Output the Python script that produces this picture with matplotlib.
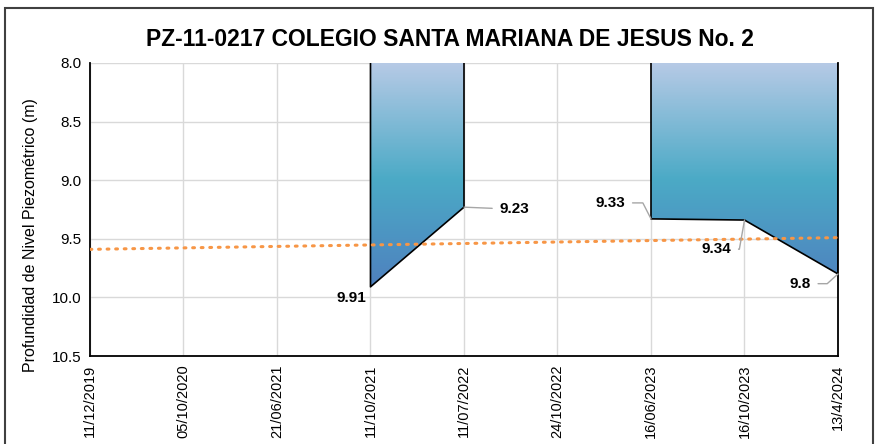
import numpy as np
import matplotlib
matplotlib.use("Agg")
import matplotlib.pyplot as plt
from matplotlib import font_manager
from matplotlib.colors import LinearSegmentedColormap
from matplotlib.patches import Rectangle

names = {f.name for f in font_manager.fontManager.ttflist}
FONT = 'Liberation Sans Narrow' if 'Liberation Sans Narrow' in names else 'Liberation Sans'
plt.rcParams['font.family'] = [FONT, 'DejaVu Sans']

# ---- data ----
dates = ["11/12/2019", "05/10/2020", "21/06/2021", "11/10/2021", "11/07/2022",
         "24/10/2022", "16/06/2023", "16/10/2023", "13/4/2024"]
depth = [np.nan, np.nan, np.nan, 9.91, 9.23, np.nan, 9.33, 9.34, 9.8]
trend_start, trend_end = 9.59, 9.49
title = "PZ-11-0217 COLEGIO SANTA MARIANA DE JESUS No. 2"
ylabel = "Profundidad de Nivel Piezométrico (m)"
# label offsets (points) and leader-line style
label_offsets = {3: (-14, -8), 4: (36, -1.5), 6: (-29, 11.5), 7: (-20, -21), 8: (-27, -7)}
leader_conn = {3: None, 4: 'arc3,rad=0', 6: 'angle,angleA=0,angleB=117,rad=0',
               7: 'angle,angleA=0,angleB=80,rad=0', 8: 'angle,angleA=0,angleB=42,rad=0'}

fig = plt.figure(figsize=(8.78, 4.44), dpi=100)
ax = fig.add_axes([90/878, 1-356/444, (838-90)/878, (356-63)/444])

x = np.arange(len(dates))
y = np.array(depth, dtype=float)
ymin, ymax = 8.0, 10.5

cmap = LinearSegmentedColormap.from_list("g", [(0.0, "#B7CAE6"), (0.5, "#4BAAC6"), (1.0, "#4F7DBE")])
grad = np.linspace(0, 1, 256).reshape(-1, 1)

# contiguous segments
segs = []
cur = []
for i, v in enumerate(y):
    if np.isnan(v):
        if cur:
            segs.append(cur); cur = []
    else:
        cur.append(i)
if cur:
    segs.append(cur)

for s in segs:
    xs = x[s]; ys = y[s]
    poly = ax.fill_between(xs, ymin, ys, color='none', lw=0)
    im = ax.imshow(grad, cmap=cmap, aspect='auto', extent=[xs[0], xs[-1], 10.0, 8.0],
                   zorder=2, interpolation='bilinear')
    im.set_clip_path(poly.get_paths()[0], transform=ax.transData)
    ox = np.concatenate([[xs[0]], xs, [xs[-1]]])
    oy = np.concatenate([[ymin], ys, [ymin]])
    ax.plot(ox, oy, color='black', lw=1.2, zorder=3)

# trend line
ax.plot([x[0], x[-1]], [trend_start, trend_end], color='#F79646', lw=2.2,
        linestyle=(0, (0.6, 2.2)), dash_capstyle='round', zorder=4)

# labels
for i, (dx, dy) in label_offsets.items():
    conn = leader_conn[i]
    ap = dict(arrowstyle='-', color='#A6A6A6', lw=1, shrinkA=3, shrinkB=0,
              connectionstyle=conn) if conn else None
    ax.annotate(f"{y[i]:g}", (x[i], y[i]), xytext=(dx, dy), textcoords='offset points',
                ha='center', va='center', fontsize=11, fontweight='bold', arrowprops=ap, zorder=5)

ax.set_xlim(x[0], x[-1])
ax.set_ylim(ymax, ymin)
ax.set_yticks(np.arange(8.0, 10.51, 0.5))
ax.set_yticklabels([f"{v:.1f}" for v in np.arange(8.0, 10.51, 0.5)], fontsize=11)
ax.set_xticks(x)
ax.set_xticklabels(dates, rotation=90, fontsize=10.5)
ax.tick_params(length=0, pad=6)
ax.grid(True, color='#D9D9D9', lw=1, zorder=0)
ax.set_axisbelow(True)
for sp in ['left', 'bottom', 'right']:
    ax.spines[sp].set_color('black'); ax.spines[sp].set_linewidth(1.3)
ax.spines['top'].set_visible(False)
ax.set_ylabel(ylabel, fontsize=11.5)
ax.yaxis.set_label_coords(-52/748, 0.413)

fig.text(450/878, 1-40/444, title, ha='center', va='center', fontsize=16.5, fontweight='bold')
fig.patches.append(Rectangle((5/878, -0.02), 868/878, 1.02-8/444, transform=fig.transFigure,
                             fill=False, edgecolor='#404040', lw=1.5))

fig.savefig("out.png", dpi=100)
